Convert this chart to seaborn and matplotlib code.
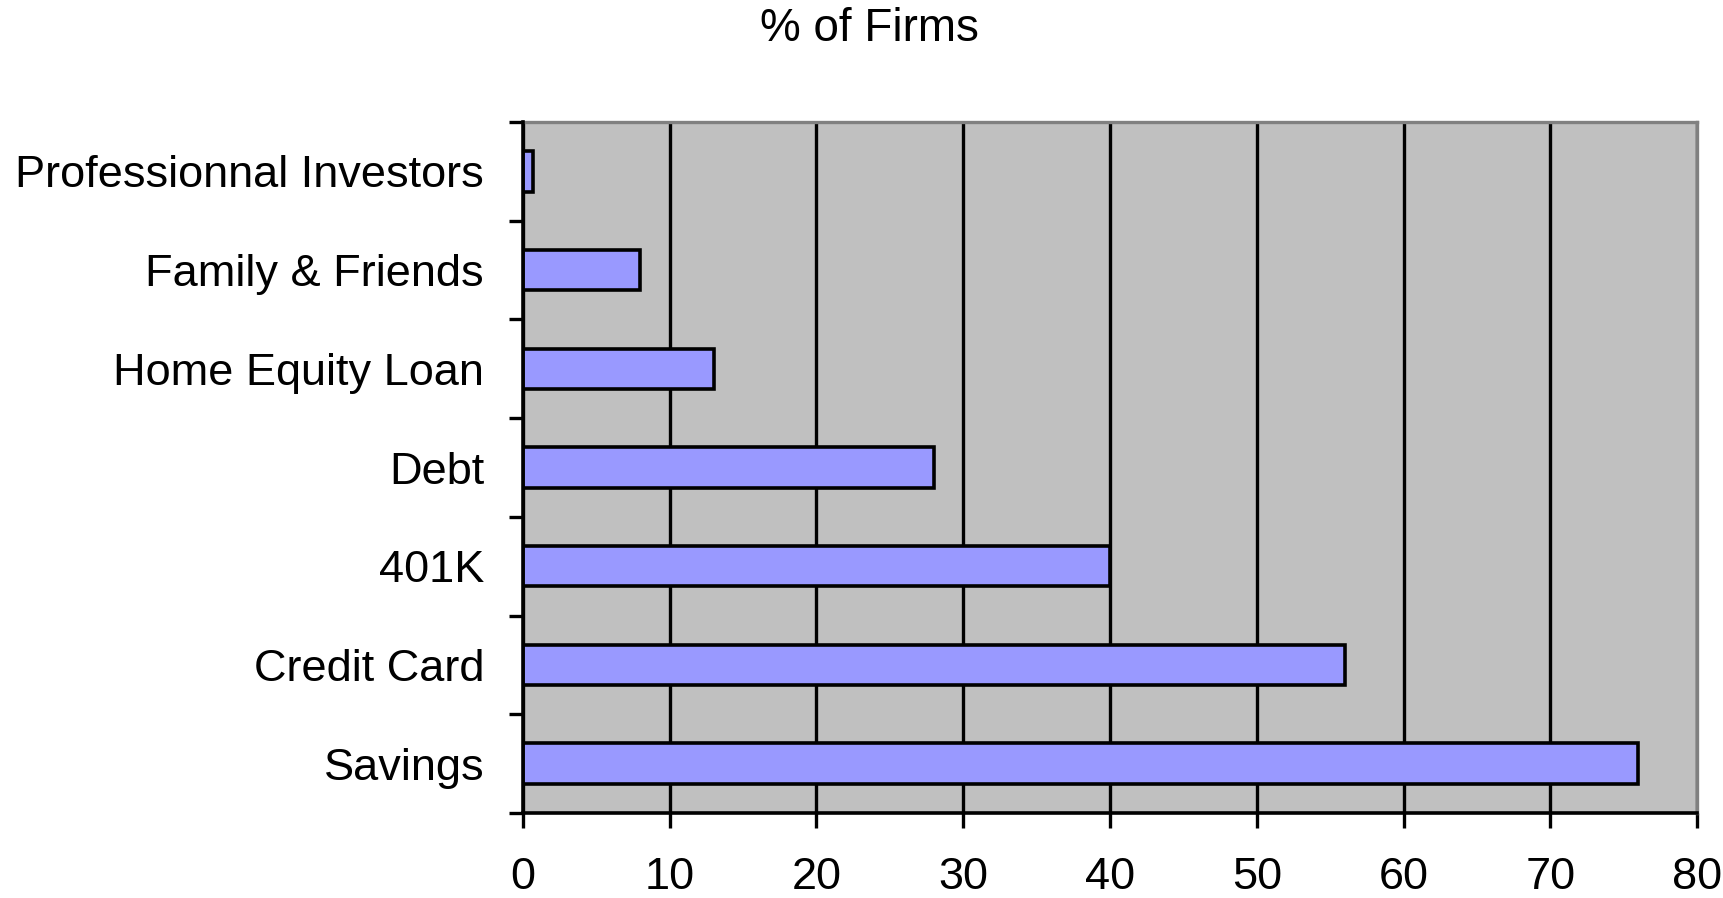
import matplotlib
matplotlib.use("Agg")
import matplotlib.pyplot as plt
import seaborn as sns
import numpy as np
import pandas as pd

categories = ["Professionnal Investors", "Family & Friends", "Home Equity Loan",
              "Debt", "401K", "Credit Card", "Savings"]
values = [0.7, 8, 13, 28, 40, 56, 76]
xticks = [0, 10, 20, 30, 40, 50, 60, 70, 80]
title = "% of Firms"

sns.set_style("white")
plt.rcParams['font.family'] = ['Liberation Sans', 'DejaVu Sans']
plt.rcParams['text.color'] = 'black'
plt.rcParams['xtick.color'] = 'black'
plt.rcParams['ytick.color'] = 'black'

df = pd.DataFrame({"category": categories, "value": values})

fig = plt.figure(figsize=(17.24, 8.98), dpi=100)
ax = fig.add_axes([523/1724, 1 - 813/898, (1697-523)/1724, (813-122)/898])
ax.set_facecolor("#C0C0C0")

sns.barplot(data=df, x="value", y="category", orient="h", color="#9999FF",
            saturation=1, edgecolor="black", linewidth=2.6, width=0.41, ax=ax, zorder=3)

ax.set_xlim(0, 80)
ax.set_ylim(len(categories) - 0.5, -0.5)
ax.set_xticks(xticks)
ax.set_xticklabels([str(t) for t in xticks], fontsize=32.5)
ax.xaxis.grid(True, color="black", linewidth=2.4, zorder=1)
ax.yaxis.grid(False)
ax.set_axisbelow(True)
ax.tick_params(axis="x", length=11, width=2.4, colors="black", pad=21, direction="out", bottom=True)

ax.set_yticks(range(len(categories)))
ax.set_yticklabels(categories, fontsize=32.5)
ax.tick_params(axis="y", which="major", length=0, pad=28, left=True, colors="black")
ax.set_yticks(np.arange(-0.5, len(categories), 1.0), minor=True)
ax.tick_params(axis="y", which="minor", length=10, width=2.4, color="black", direction="out", left=True)

ax.set_xlabel("")
ax.set_ylabel("")

for side in ["left", "bottom"]:
    ax.spines[side].set_color("black")
    ax.spines[side].set_linewidth(2.6)
    ax.spines[side].set_zorder(5)
for side in ["top", "right"]:
    ax.spines[side].set_color("#808080")
    ax.spines[side].set_linewidth(2.4)
    ax.spines[side].set_visible(True)

fig.text(869/1724, 1 - 29/898, title, ha="center", va="center", fontsize=33, color="black")

fig.savefig("out.png", dpi=100, facecolor="white")
